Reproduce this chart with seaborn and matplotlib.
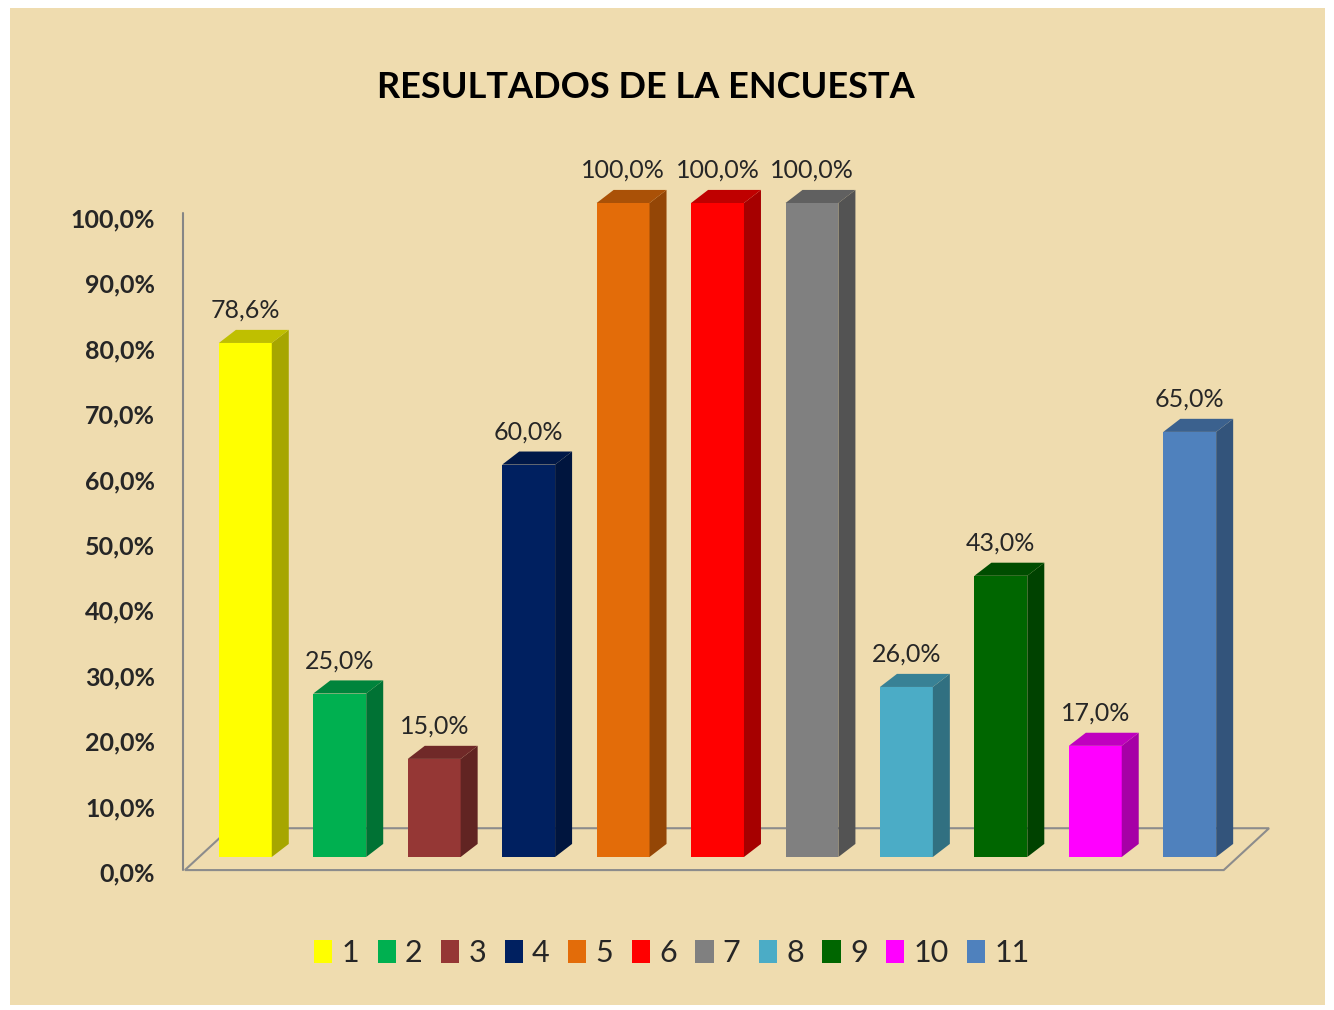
import matplotlib
matplotlib.use("Agg")
import matplotlib.pyplot as plt
import matplotlib.transforms as mtransforms
from matplotlib.patches import Polygon, Rectangle, Patch
from matplotlib.colors import to_rgb
import seaborn as sns

# data
categories = ['1', '2', '3', '4', '5', '6', '7', '8', '9', '10', '11']
values = [78.6, 25.0, 15.0, 60.0, 100.0, 100.0, 100.0, 26.0, 43.0, 17.0, 65.0]
bar_colors = ['#FFFF00', '#00B050', '#953735', '#002060', '#E36C09', '#FF0000',
              '#808080', '#4BACC6', '#006600', '#FF00FF', '#4F81BD']
y_ticks = [0, 10, 20, 30, 40, 50, 60, 70, 80, 90, 100]
title = 'RESULTADOS DE LA ENCUESTA'

PARCHMENT = '#EFDCAF'
TEXT = '#262626'


def shade(color, k):
    r, g, b = to_rgb(color)
    return (r * k, g * k, b * k)


def pct(v):
    return f'{v:.1f}%'.replace('.', ',')


sns.set_theme(style='white')
plt.rcParams['font.family'] = ['Lato', 'DejaVu Sans']

fig = plt.figure(figsize=(13.34, 10.10), dpi=100)
fig.patch.set_facecolor('white')
fig.patches.append(Rectangle((10 / 1334, 5 / 1010), 1315 / 1334, 997 / 1010,
                             transform=fig.transFigure, facecolor=PARCHMENT,
                             edgecolor='none', zorder=-10))

ax = fig.add_axes([183 / 1334, 153 / 1010, 1087 / 1334, 654 / 1010])
ax.set_facecolor('none')

sns.barplot(x=categories, y=values, hue=categories, palette=bar_colors,
            width=0.56, saturation=1, legend=False, edgecolor='none',
            ax=ax, zorder=3)

ax.set_xlim(-0.66, 10.85)
ax.set_ylim(0, 100)

# fake 3D depth for each bar
dx, dy = 0.18, 2.0
bars = list(ax.patches)
for p, v in zip(bars, values):
    x0, w, h = p.get_x(), p.get_width(), p.get_height()
    c = p.get_facecolor()
    side = Polygon([(x0 + w, 0), (x0 + w + dx, dy), (x0 + w + dx, h + dy), (x0 + w, h)],
                   closed=True, facecolor=shade(c, 0.65), edgecolor='none', zorder=3,
                   clip_on=False)
    top = Polygon([(x0, h), (x0 + w, h), (x0 + w + dx, h + dy), (x0 + dx, h + dy)],
                  closed=True, facecolor=shade(c, 0.75), edgecolor='none', zorder=3,
                  clip_on=False)
    ax.add_patch(side)
    ax.add_patch(top)
    ax.annotate(pct(v), xy=(x0 + w / 2, h + dy), xytext=(0, 6),
                textcoords='offset points', ha='center', va='bottom',
                fontsize=18, color=TEXT, annotation_clip=False)

# floor and value axis
floor = Polygon([(-0.64, -2.0), (10.36, -2.0), (10.84, 4.4), (-0.16, 4.4)],
                closed=True, facecolor='none', edgecolor='#8C8C8C', lw=1.5,
                zorder=1, clip_on=False)
ax.add_patch(floor)
ax.plot([-0.66, -0.66], [-2.0, 98.5], color='#868686', lw=1.5, clip_on=False, zorder=1)

ax.set_yticks(y_ticks)
ax.set_yticklabels([pct(t) for t in y_ticks], fontweight='bold', color=TEXT, fontsize=18)
ax.tick_params(axis='y', length=0, pad=20)
shift = mtransforms.ScaledTranslation(0, -0.15, fig.dpi_scale_trans)
for lab in ax.get_yticklabels():
    lab.set_transform(lab.get_transform() + shift)
ax.set_xticks([])
ax.set_xlabel('')
ax.set_ylabel('')
sns.despine(ax=ax, left=True, bottom=True)

fig.text(646 / 1334, 1 - 87 / 1010, title, ha='center', va='center',
         fontsize=26, fontweight='bold', color='black')

handles = [Patch(facecolor=c, edgecolor='none') for c in bar_colors]
fig.legend(handles, categories, loc='center', bbox_to_anchor=(672 / 1334, 1 - 953 / 1010),
           ncol=len(categories), frameon=False, fontsize=22, handlelength=0.6,
           handleheight=0.8, handletextpad=0.3, columnspacing=0.6,
           labelcolor=TEXT)

fig.savefig('out.png', dpi=100, facecolor=fig.get_facecolor())
